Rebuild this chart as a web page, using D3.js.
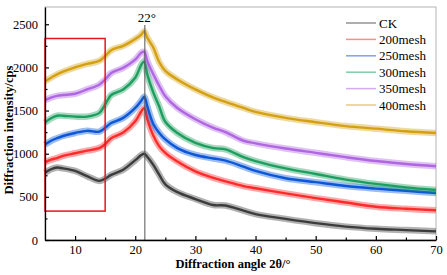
<!DOCTYPE html>
<html>
<head>
<meta charset="utf-8">
<script src="https://cdn.jsdelivr.net/npm/d3@7"></script>
<style>
  body { margin: 0; background: #fff; }
  text { font-family: "Liberation Serif", "Times New Roman", serif; }
</style>
</head>
<body>
<div id="xrd"></div>
<script>
var angles = [5, 6, 7, 8, 10, 12, 14, 15, 16, 18, 20, 21, 21.5, 22, 23, 24, 25, 27, 30, 33, 35, 38, 40, 45, 50, 55, 60, 65, 70];

var ck      = [780, 820, 840, 830, 800, 740, 685, 710, 755, 815, 925, 985, 1000, 965, 870, 755, 645, 555, 475, 405, 400, 340, 300, 245, 195, 155, 130, 115, 100];
var mesh200 = [900, 930, 950, 975, 1005, 1035, 1065, 1110, 1180, 1245, 1375, 1490, 1530, 1400, 1210, 1085, 1010, 910, 795, 720, 680, 625, 600, 540, 485, 435, 385, 362, 345];
var mesh250 = [1105, 1150, 1180, 1205, 1240, 1265, 1255, 1300, 1355, 1415, 1530, 1615, 1660, 1550, 1345, 1240, 1165, 1065, 985, 945, 920, 850, 800, 715, 670, 625, 595, 570, 545];
var mesh300 = [1360, 1410, 1440, 1440, 1430, 1430, 1470, 1570, 1680, 1745, 1880, 2030, 2070, 1920, 1710, 1545, 1370, 1240, 1125, 1065, 1050, 960, 915, 830, 765, 700, 650, 610, 580];
var mesh350 = [1620, 1650, 1670, 1680, 1695, 1745, 1800, 1860, 1935, 1995, 2090, 2170, 2180, 2075, 1920, 1785, 1665, 1530, 1400, 1300, 1250, 1150, 1120, 1060, 1010, 960, 915, 880, 855];
var mesh400 = [1840, 1880, 1920, 1950, 2000, 2040, 2075, 2130, 2200, 2250, 2330, 2380, 2420, 2345, 2230, 2060, 1960, 1860, 1745, 1650, 1600, 1530, 1485, 1415, 1365, 1320, 1290, 1260, 1240];

var seriesNames = ["CK", "200mesh", "250mesh", "300mesh", "350mesh", "400mesh"];
var seriesValues = [ck, mesh200, mesh250, mesh300, mesh350, mesh400];
var seriesColors = ["#3c3c3c", "#ff2b2b", "#0b57d8", "#1d9e5e", "#b066e2", "#d4a012"];

var xTicks = [10, 20, 30, 40, 50, 60, 70];
var xMinor = [15, 25, 35, 45, 55, 65];
var yTicks = [0, 500, 1000, 1500, 2000, 2500];
var yMinor = [250, 750, 1250, 1750, 2250];

// highlighted low-angle region and the amorphous peak marker
var boxAngles = [5, 15];
var boxCounts = [335, 2335];
var peakAngle = 21.6;
var peakLabel = "22°";

var svgWidth = 447, svgHeight = 275;
var margin = {top: 7, right: 11, bottom: 35, left: 45};

(function makeXrd() {
  var svg = d3.select('#xrd').append('svg')
    .attr('width', svgWidth)
    .attr('height', svgHeight);
  var width = svgWidth - margin.left - margin.right;
  var height = svgHeight - margin.top - margin.bottom;
  var g = svg.append('g')
    .attr('transform', 'translate(' + margin.left + ',' + margin.top + ')');

  var x = d3.scaleLinear().domain([5, 70]).range([0, width]);
  var y = d3.scaleLinear().domain([0, 2700]).range([height, 0]);

  // frame
  g.append('rect')
    .attr('width', width)
    .attr('height', height)
    .attr('fill', 'none')
    .attr('stroke', '#b4b4b4')
    .attr('stroke-width', 1);

  // traces: a faint wide band stands in for the noise, a core line on top
  var line = d3.line()
    .x(function(d) { return x(d[0]); })
    .y(function(d) { return y(d[1]); })
    .curve(d3.curveCatmullRom.alpha(0.5));

  seriesValues.forEach(function(vals, i) {
    var pts = angles.map(function(a, j) { return [a, vals[j]]; });
    g.append('path')
      .datum(pts)
      .attr('fill', 'none')
      .attr('stroke', seriesColors[i])
      .attr('stroke-opacity', 0.4)
      .attr('stroke-width', 6.5)
      .attr('stroke-linejoin', 'round')
      .attr('d', line);
    g.append('path')
      .datum(pts)
      .attr('fill', 'none')
      .attr('stroke', seriesColors[i])
      .attr('stroke-width', 2.4)
      .attr('stroke-linejoin', 'round')
      .attr('d', line);
  });

  // red box
  g.append('rect')
    .attr('x', x(boxAngles[0]))
    .attr('y', y(boxCounts[1]))
    .attr('width', x(boxAngles[1]) - x(boxAngles[0]))
    .attr('height', y(boxCounts[0]) - y(boxCounts[1]))
    .attr('fill', 'none')
    .attr('stroke', '#e8141c')
    .attr('stroke-width', 1.5);

  // peak marker
  g.append('line')
    .attr('x1', x(peakAngle)).attr('x2', x(peakAngle))
    .attr('y1', 18).attr('y2', height)
    .attr('stroke', '#555')
    .attr('stroke-width', 1);
  g.append('text')
    .attr('x', x(peakAngle) + 2)
    .attr('y', 15)
    .attr('text-anchor', 'middle')
    .attr('font-size', 13)
    .text(peakLabel);

  // axes, ticks pointing inside
  g.append('g')
    .attr('transform', 'translate(0,' + height + ')')
    .call(d3.axisBottom(x).tickValues(xTicks).tickSizeInner(-4).tickSizeOuter(0).tickPadding(5));
  g.append('g')
    .attr('transform', 'translate(0,' + height + ')')
    .call(d3.axisBottom(x).tickValues(xMinor).tickSize(-2.5).tickFormat(''))
    .select('.domain').remove();

  g.append('g')
    .call(d3.axisLeft(y).tickValues(yTicks).tickFormat(d3.format('d')).tickSizeInner(-4).tickSizeOuter(0).tickPadding(7));
  g.append('g')
    .call(d3.axisLeft(y).tickValues(yMinor).tickSize(-2.5).tickFormat(''))
    .select('.domain').remove();

  g.selectAll('.domain').attr('stroke', '#000').attr('stroke-width', 1.3);
  g.selectAll('.tick line').attr('stroke', '#000').attr('stroke-width', 1.2);
  g.selectAll('.tick text')
    .attr('font-family', '"Liberation Serif", serif')
    .attr('font-size', 12.5)
    .attr('fill', '#000');

  // axis titles
  svg.append('text')
    .attr('x', 233)
    .attr('y', 268)
    .attr('text-anchor', 'middle')
    .attr('font-weight', 'bold')
    .attr('font-size', 12.5)
    .text('Diffraction angle 2θ/°');
  svg.append('text')
    .attr('transform', 'translate(13,130) rotate(-90)')
    .attr('text-anchor', 'middle')
    .attr('font-weight', 'bold')
    .attr('font-size', 12.5)
    .text('Diffraction intensity/cps');

  // legend
  var legend = svg.append('g').attr('transform', 'translate(346,23)');
  seriesNames.forEach(function(name, i) {
    var row = legend.append('g').attr('transform', 'translate(0,' + (i * 16.4) + ')');
    row.append('line')
      .attr('x1', 0).attr('x2', 30)
      .attr('stroke', seriesColors[i])
      .attr('stroke-opacity', 0.55)
      .attr('stroke-width', 1.5);
    row.append('text')
      .attr('x', 33)
      .attr('dy', '0.35em')
      .attr('font-size', 13)
      .text(name);
  });
})();
</script>
</body>
</html>
